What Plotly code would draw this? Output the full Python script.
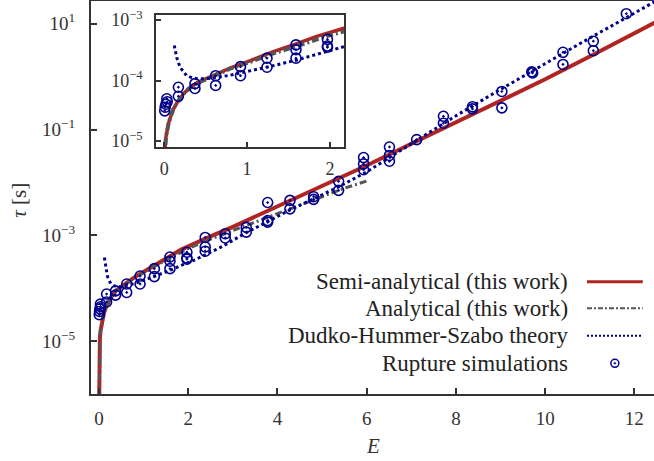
import numpy as np
import plotly.graph_objects as go

# ---------------- data ----------------
# Semi-analytical (this work): E and log10(tau)
semi_E = [0.0015, 0.004, 0.008, 0.012, 0.02, 0.035, 0.052, 0.08, 0.11, 0.16, 0.23, 0.3,
          0.39, 0.5, 0.63, 0.8, 1.04, 1.3, 1.6, 1.84, 2.16, 2.5, 3.0, 4.0, 5.0, 6.0, 7.0,
          8.0, 9.0, 10.0, 11.0, 12.0, 12.5]
semi_log_tau = [-6.3, -5.6, -5.25, -5.07, -4.93, -4.8, -4.70, -4.58, -4.47, -4.35, -4.22, -4.13,
                -4.04, -3.97, -3.89, -3.79, -3.67, -3.53, -3.39, -3.27, -3.14, -3.02, -2.84, -2.46,
                -2.07, -1.68, -1.27, -0.87, -0.46, -0.05, 0.38, 0.82, 1.04]

# Analytical (this work)
ana_E = [0.0015, 0.004, 0.008, 0.012, 0.02, 0.035, 0.052, 0.08, 0.11, 0.16, 0.23, 0.3,
         0.39, 0.5, 0.63, 0.8, 1.04, 1.3, 1.6, 2.0, 2.5, 3.0, 3.5, 4.0, 4.5, 5.0, 5.5, 6.05]
ana_log_tau = [-6.3, -5.6, -5.25, -5.07, -4.93, -4.8, -4.70, -4.58, -4.47, -4.35, -4.22, -4.13,
               -4.05, -3.98, -3.90, -3.80, -3.69, -3.56, -3.43, -3.25, -3.07, -2.91, -2.75,
               -2.59, -2.43, -2.27, -2.11, -1.96]

# Dudko-Hummer-Szabo theory
dhs_E = [0.12, 0.15, 0.19, 0.23, 0.27, 0.33, 0.39, 0.5, 0.63, 0.8, 1.04, 1.3, 1.6, 1.84,
         2.16, 2.74, 3.3, 3.78, 4.28, 4.81, 5.38, 6.0, 7.0, 8.0, 9.0, 10.0, 11.0, 12.0, 12.5]
dhs_log_tau = [-3.42, -3.62, -3.78, -3.86, -3.92, -3.95, -3.97, -3.97, -3.95, -3.91, -3.84,
               -3.76, -3.66, -3.57, -3.46, -3.22, -2.95, -2.74, -2.52, -2.31, -2.08, -1.80,
               -1.27, -0.74, -0.24, 0.25, 0.73, 1.20, 1.44]

# Rupture simulations
sim_E = [0.005, 0.01, 0.02, 0.03, 0.035,
         0.17, 0.17, 0.37, 0.37, 0.62, 0.62, 0.92, 0.92, 1.24, 1.24,
         1.59, 1.59, 1.59, 1.97, 1.97, 1.97, 2.38, 2.38, 2.38, 2.83, 2.83,
         3.30, 3.30, 3.78, 3.78, 3.78, 4.28, 4.28, 4.81, 4.81, 5.37, 5.37,
         5.93, 5.93, 5.93, 6.51, 6.51, 6.51, 7.12, 7.72, 7.72, 8.37, 8.37,
         9.03, 9.03, 9.70, 9.72, 10.40, 10.40, 11.08, 11.08, 11.82]
sim_log_tau = [-4.50, -4.44, -4.39, -4.30, -4.35,
               -4.11, -4.26, -4.05, -4.13, -3.92, -4.08, -3.77, -3.92, -3.63, -3.78,
               -3.41, -3.49, -3.63, -3.32, -3.43, -3.45, -3.04, -3.22, -3.30, -2.97, -3.05,
               -2.85, -2.94, -2.38, -2.72, -2.75, -2.34, -2.50, -2.27, -2.32, -1.98, -2.15,
               -1.53, -1.65, -1.76, -1.33, -1.49, -1.60, -1.19, -0.75, -0.88, -0.57, -0.61,
               -0.28, -0.59, 0.09, 0.07, 0.46, 0.23, 0.67, 0.49, 1.19]

main_y_ticks = [1e1, 1e-1, 1e-3, 1e-5]
main_y_labels = ["10<sup>1</sup>", "10<sup>\u22121</sup>", "10<sup>\u22123</sup>", "10<sup>\u22125</sup>"]
inset_y_ticks = [1e-3, 1e-4, 1e-5]
inset_y_labels = ["10<sup>\u22123</sup>", "10<sup>\u22124</sup>", "10<sup>\u22125</sup>"]
main_x_ticks = [0, 2, 4, 6, 8, 10, 12]
inset_x_ticks = [0, 1, 2]

x_title = "<i>E</i>"
y_title = "<i>\u03c4</i> [s]"
legend_labels = ["Semi-analytical (this work)", "Analytical (this work)",
                 "Dudko-Hummer-Szabo theory", "Rupture simulations"]

# ---------------- styles ----------------
RED = "#b02523"
GRAY = "#555555"
BLUE = "#00008b"
AX = "#333333"
FONT = "Liberation Serif"

to_tau = lambda v: np.power(10.0, np.asarray(v))

fig = go.Figure()

for xa, ya, wr, wg, wb in [("x", "y", 4, 3, 3), ("x2", "y2", 3.5, 4, 3)]:
    fig.add_trace(go.Scatter(x=semi_E, y=to_tau(semi_log_tau), mode="lines",
                             line=dict(color=RED, width=wr), xaxis=xa, yaxis=ya,
                             name=legend_labels[0]))
    fig.add_trace(go.Scatter(x=ana_E, y=to_tau(ana_log_tau), mode="lines",
                             line=dict(color=GRAY, width=wg, dash="7px,3px,2px,3px"),
                             xaxis=xa, yaxis=ya, name=legend_labels[1]))
    fig.add_trace(go.Scatter(x=dhs_E, y=to_tau(dhs_log_tau), mode="lines",
                             line=dict(color=BLUE, width=wb, dash="3px,3px"),
                             xaxis=xa, yaxis=ya, name=legend_labels[2]))
    fig.add_trace(go.Scatter(x=sim_E, y=to_tau(sim_log_tau), mode="markers",
                             marker=dict(symbol="circle-dot", size=10, color="rgba(0,0,0,0)",
                                         line=dict(color=BLUE, width=1.6)),
                             xaxis=xa, yaxis=ya, name=legend_labels[3]))

axis_common = dict(showgrid=False, zeroline=False, showline=True, linecolor=AX,
                   ticks="inside", tickcolor=AX, tickwidth=1.5, automargin=False,
                   tickfont=dict(family=FONT, size=19, color="#333"))

fig.update_layout(
    width=654, height=461,
    margin=dict(l=91, r=0, t=1, b=67, autoexpand=False),
    paper_bgcolor="white", plot_bgcolor="white",
    showlegend=False,
    font=dict(family=FONT, color="#333"),
    xaxis=dict(**axis_common, range=[-0.18, 12.44], tickmode="array", tickvals=main_x_ticks,
               ticklen=6, linewidth=2, mirror=True, ticklabelstandoff=6),
    yaxis=dict(**axis_common, type="log", range=[-6.0, 1.43], tickmode="array",
               tickvals=main_y_ticks, ticktext=main_y_labels, ticklen=6, linewidth=2,
               ticklabelstandoff=10),
    xaxis2=dict(**axis_common, domain=[0.1155, 0.4494], anchor="y2", range=[-0.1, 2.17],
                tickmode="array", tickvals=inset_x_ticks, ticklen=5, linewidth=1.5, mirror=True,
                ticklabelstandoff=4),
    yaxis2=dict(**axis_common, domain=[0.628, 0.964], anchor="x2", type="log",
                range=[-5.1, -2.92], tickmode="array", tickvals=inset_y_ticks,
                ticktext=inset_y_labels, ticklen=5, linewidth=1.5, mirror=True,
                ticklabelstandoff=8),
)
fig.update_xaxes(tickfont=dict(size=18), selector=dict(anchor="y2"))
fig.update_yaxes(tickfont=dict(size=18), selector=dict(anchor="x2"))

# axis titles placed as annotations for exact positioning
fig.add_annotation(x=-0.128, y=0.494, xref="paper", yref="paper", text=y_title,
                   textangle=-90, showarrow=False, xanchor="center", yanchor="middle",
                   font=dict(family=FONT, size=21, color="#333"))
fig.add_annotation(x=0.5, y=-0.132, xref="paper", yref="paper", text=x_title,
                   showarrow=False, xanchor="center", yanchor="middle",
                   font=dict(family=FONT, size=21, color="#333"))

# ---------------- custom legend (symbol to the right of the text) ----------------
leg_y = [0.2858, 0.2181, 0.1483, 0.0781]
text_x = 0.851
line_x0, line_x1 = 0.881, 0.980
for lbl, yy in zip(legend_labels, leg_y):
    fig.add_annotation(x=text_x, y=yy, xref="paper", yref="paper", text=lbl,
                       showarrow=False, xanchor="right", yanchor="middle",
                       font=dict(family=FONT, size=23, color="#222"))
fig.add_shape(type="line", xref="paper", yref="paper", x0=line_x0, x1=line_x1,
              y0=leg_y[0], y1=leg_y[0], line=dict(color=RED, width=3))
fig.add_shape(type="line", xref="paper", yref="paper", x0=line_x0, x1=line_x1,
              y0=leg_y[1], y1=leg_y[1], line=dict(color=GRAY, width=2, dash="5px,2px,2px,2px"))
fig.add_shape(type="line", xref="paper", yref="paper", x0=line_x0, x1=line_x1,
              y0=leg_y[2], y1=leg_y[2], line=dict(color=BLUE, width=2, dash="2px,2px"))
cx = (line_x0 + line_x1) / 2
fig.add_shape(type="circle", xref="paper", yref="paper", xsizemode="pixel", ysizemode="pixel",
              xanchor=cx, yanchor=leg_y[3], x0=-4, x1=4, y0=-4, y1=4,
              line=dict(color=BLUE, width=1.5))
fig.add_shape(type="circle", xref="paper", yref="paper", xsizemode="pixel", ysizemode="pixel",
              xanchor=cx, yanchor=leg_y[3], x0=-0.8, x1=0.8, y0=-0.8, y1=0.8,
              line=dict(color=BLUE, width=0.8), fillcolor=BLUE)

fig.write_html("out.html", config={"displayModeBar": False},
               post_script="document.body.style.margin='0';document.body.style.padding='0';")
